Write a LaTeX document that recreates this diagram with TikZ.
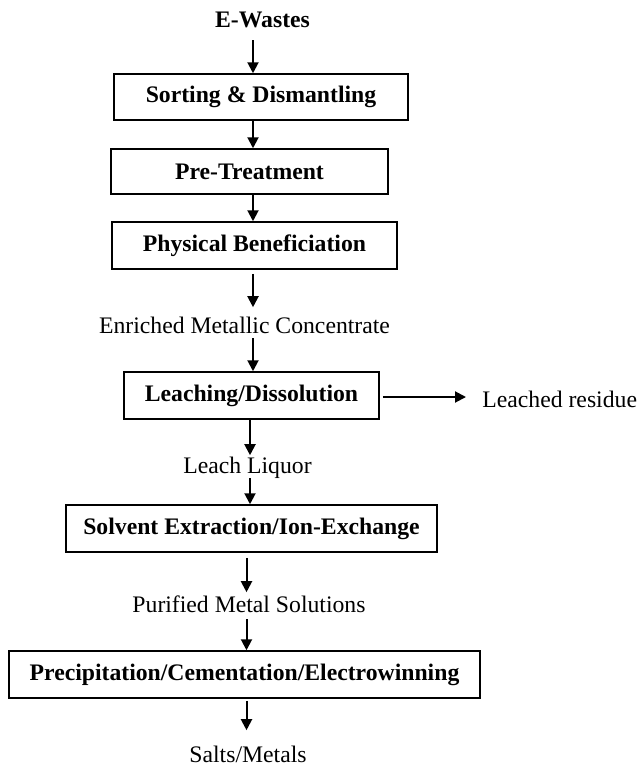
\documentclass[tikz,border=0pt]{standalone}
\usepackage{fontspec}
\setmainfont{Liberation Serif}
\usetikzlibrary{arrows.meta}
\definecolor{FlowInk}{HTML}{000000}
\tikzset{
  every node/.style={font=\fontsize{11.85}{14}\selectfont, text=FlowInk},
  stage/.style={draw=FlowInk, line width=0.75pt, inner sep=0pt, font=\fontsize{11.85}{14}\selectfont\bfseries},
  stream/.style={inner sep=0pt, text height=0.7em, text depth=0.25em},
  flow/.style={-{Triangle[length=5.5pt,width=5.5pt]}, draw=FlowInk, line width=1pt},
}

\begin{document}
\begin{tikzpicture}[x=0.5pt,y=-0.5pt]
  \useasboundingbox (0,0) rectangle (640,766);
  % arrow columns
  \coordinate (c1) at (253,0);
  \coordinate (c2) at (250,0);
  \coordinate (c3) at (246.5,0);
  % Stages
  \node[stream, anchor=base, font=\fontsize{11.85}{14}\selectfont\bfseries] (ew) at (262.5,27) {E-Wastes};
  \node[stage, minimum width=147pt, minimum height=23pt] (sort) at (261,97) {Sorting \& Dismantling};
  \node[stage, minimum width=138.5pt, minimum height=22.5pt] (pre) at (249.5,171.5) {Pre-Treatment};
  \node[stage, minimum width=142.5pt, minimum height=23.5pt] (phys) at (254.5,245.5) {Physical Beneficiation};
  \node[stream, anchor=base] (enr) at (244.5,333) {Enriched Metallic Concentrate};
  \node[stage, minimum width=127.5pt, minimum height=23.5pt] (leach) at (251.5,395.5) {Leaching/Dissolution};
  \node[stream, anchor=base west] (res) at (482,407) {Leached residue};
  \node[stream, anchor=base] (liq) at (247.5,473) {Leach Liquor};
  \node[stage, minimum width=185.5pt, minimum height=23.5pt] (solv) at (251.5,528.5) {Solvent Extraction/Ion-Exchange};
  \node[stream, anchor=base] (pur) at (249,612) {Purified Metal Solutions};
  \node[stage, minimum width=235.5pt, minimum height=23.5pt] (prec) at (244.5,674.5) {Precipitation/Cementation/Electrowinning};
  \node[stream, anchor=base] (salt) at (248,762) {Salts/Metals};
  % Flow arrows
  \draw[flow, shorten <=4pt] (ew.south -| c1) -- (sort.north -| c1);
  \draw[flow] (sort.south -| c1) -- (pre.north -| c1);
  \draw[flow] (pre.south -| c1) -- (phys.north -| c1);
  \draw[flow, shorten <=2pt, shorten >=5.7pt] (phys.south -| c1) -- (enr.north -| c1);
  \draw[flow] (enr.south -| c1) -- (leach.north -| c1);
  \draw[flow, shorten <=1.5pt, shorten >=8pt] ([yshift=-0.75pt]leach.east) -- ([yshift=-0.75pt]leach.east -| res.west);
  \draw[flow, shorten >=1.7pt] (leach.south -| c2) -- (liq.north -| c2);
  \draw[flow] (liq.south -| c2) -- (solv.north -| c2);
  \draw[flow, shorten <=2.5pt, shorten >=2.7pt] (solv.south -| c3) -- (pur.north -| c3);
  \draw[flow, shorten <=1pt] (pur.south -| c3) -- (prec.north -| c3);
  \draw[flow, shorten <=1pt, shorten >=8.7pt] (prec.south -| c3) -- (salt.north -| c3);
\end{tikzpicture}
\end{document}
